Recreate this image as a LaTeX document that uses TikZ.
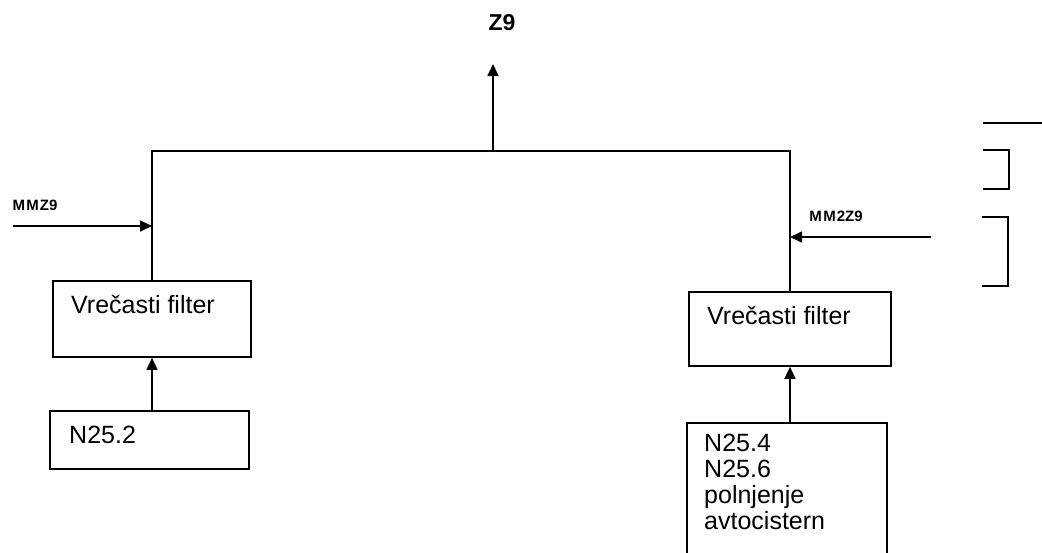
\documentclass[tikz,border=0pt]{standalone}
\usepackage{fontspec}
\setmainfont{Liberation Sans}
\usetikzlibrary{arrows.meta}
\begin{document}
\begin{tikzpicture}[x=1pt,y=-1pt,
  line/.style={line width=1.7pt},
  arr/.style={line width=1.7pt,-{Triangle[length=12pt,width=11pt]}},
  box/.style={draw,line width=1.7pt,rectangle,inner sep=0pt},
  txt/.style={inner sep=0pt,anchor=base west,font=\fontsize{25}{26}\selectfont},
  small/.style={inner sep=0pt,font=\bfseries\fontsize{15}{16}\selectfont}]
\useasboundingbox (0,0) rectangle (1042,552);
\begin{scope}
\clip (0,0) rectangle (1042,552);
% boxes
\node[box,minimum width=198pt,minimum height=76pt] (lf) at (152,319) {};
\node[box,minimum width=202pt,minimum height=74pt] (rf) at (790,329) {};
\node[box,minimum width=199pt,minimum height=58pt] (n252) at (149.5,440) {};
\node[box,minimum width=200pt,minimum height=150pt] (n254) at (787,498) {};
% texts
\node[txt] (lft) at (71,313) {Vrečasti filter};
\node[txt] (rft) at (707,324) {Vrečasti filter};
\node[txt] (n252t) at (69,443) {N25.2};
\node[txt,align=left,anchor=north west] (n254t) at (704,434) {N25.4\\N25.6\\polnjenje\\avtocistern};
\node[small] (mmz9) at (35,205) {M\kern1.5pt M\kern1pt Z9};
\node[small] (mm2z9) at (836,216) {M\kern1.5pt M\kern1pt 2Z9};
\node[inner sep=0pt,font=\bfseries\fontsize{23}{26}\selectfont] (z9) at (502,23) {Z9};
% coordinates
\coordinate (top) at (493,151);
\coordinate (z9tip) at (493,64);
\coordinate (min) at (13,226);
\coordinate (m2in) at (931,237);
% connectors
\draw[line] (lf.north) -- (lf.north |- top) -- (rf.north |- top) -- (rf.north);
\draw[arr] (top) -- (z9tip);
\draw[arr] (n252.north -| lf.south) -- (lf.south);
\draw[arr] (n254.north -| rf.south) -- (rf.south);
\draw[arr] (min) -- (min -| lf.north);
\draw[arr] (m2in) -- (m2in -| rf.north);
% partial shapes on the right edge
\draw[line] (983,123) -- (1042,123);
\draw[line] (983,150) -- (1009,150) -- (1009,189) -- (983,189);
\draw[line] (982,217) -- (1008,217) -- (1008,286) -- (982,286);
\end{scope}
\end{tikzpicture}
\end{document}
